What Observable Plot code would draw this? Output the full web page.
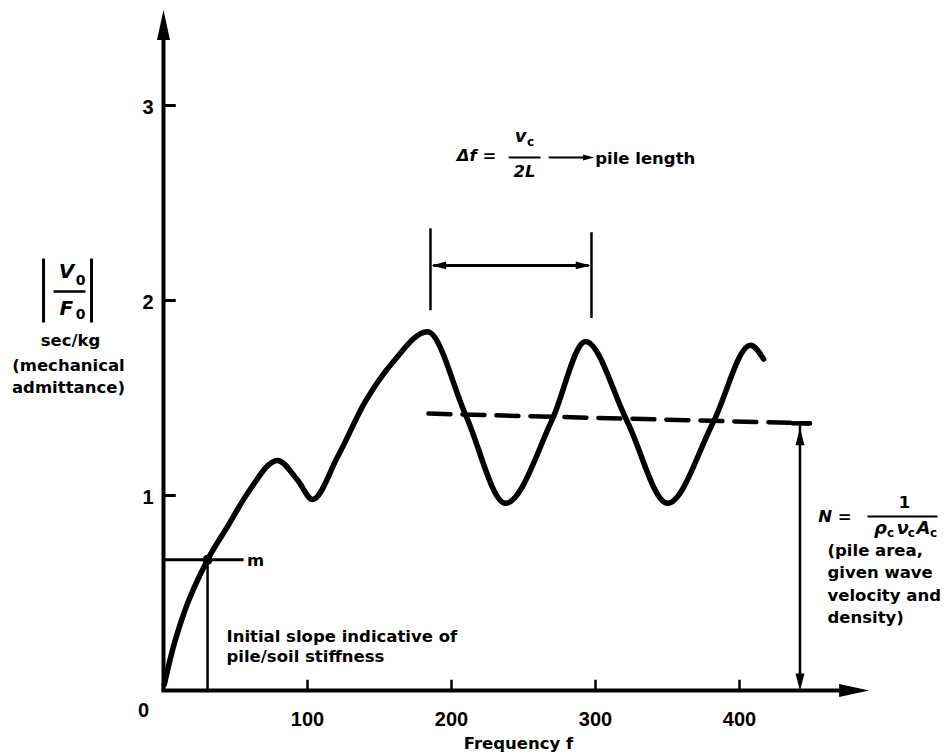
<!DOCTYPE html>
<html><head><meta charset="utf-8">
<script src="https://cdn.jsdelivr.net/npm/d3@7"></script>
<script src="https://cdn.jsdelivr.net/npm/@observablehq/plot@0.6"></script>
<style>html,body{margin:0;padding:0;background:#fff} svg{display:block}</style>
</head><body><div id="chart"></div>
<script>
// ---- data ----
const freq = [0.5, 6, 13.9, 30.6, 44.4, 58.3, 79.2, 93, 103.5, 121, 140, 160, 183.3, 210, 237.5, 270, 293, 322, 350, 382, 407.6, 416.7];
const admittance = [0.03, 0.2, 0.39, 0.67, 0.84, 1.01, 1.18, 1.08, 0.98, 1.2, 1.48, 1.69, 1.84, 1.41, 0.96, 1.39, 1.79, 1.38, 0.96, 1.38, 1.77, 1.70];
const xTicks = [100, 200, 300, 400];
const yTicks = [1, 2, 3];
const meanFreq = [184, 449];
const meanLevel = [1.42, 1.37];
const mFreq = 30.6, mLevel = 0.67;
const spanFreq = [185.4, 297.2];
const nFreq = 442;

const curve = freq.map((f, i) => ({f, a: admittance[i]}));
const mean = meanFreq.map((f, i) => ({f, a: meanLevel[i]}));

const FONT = "DejaVu Sans";
// filled arrow head symbol, tip at the dot position, pointing along (dx,dy) in screen space
const head = (len, hw, dx, dy) => ({
  draw(ctx) {
    const bx = -dx * len, by = -dy * len, px = -dy * hw, py = dx * hw;
    ctx.moveTo(0, 0); ctx.lineTo(bx + px, by + py); ctx.lineTo(bx - px, by - py); ctx.closePath();
  }
});
const tip = (x, y, symbol) => Plot.dot([0], {x: () => x, y: () => y, symbol, fill: "black", stroke: "none"});
const seg = (x1, y1, x2, y2, o = {}) => Plot.link([0], {x1: () => x1, y1: () => y1, x2: () => x2, y2: () => y2, stroke: "black", strokeWidth: 2.5, ...o});
const T = (text, x, y, o = {}) => Plot.text([text], {x: () => x, y: () => y, text: d => d, fontSize: 16.5, fontWeight: "bold", fontFamily: FONT, fill: "black", ...o});
const it = {fontStyle: "italic"};
const sub = {fontSize: 12};

const chart = Plot.plot({
  width: 944, height: 755,
  marginLeft: 163, marginRight: 61, marginTop: 7.5, marginBottom: 65,
  x: {domain: [0, 500], axis: null},
  y: {domain: [0, 3.5], axis: null},
  style: {background: "white", fontFamily: FONT},
  marks: [
    // axes
    seg(-1.5, 0, 472, 0, {strokeWidth: 4}),
    tip(490, 0, head(30, 6.5, 1, 0)),
    seg(0, 0, 0, 3.36, {strokeWidth: 4}),
    tip(0, 3.49, head(30, 6.5, 0, -1)),
    Plot.link(xTicks, {x1: d => d, x2: d => d, y1: () => 0, y2: () => 0.055, stroke: "black", strokeWidth: 2.5}),
    Plot.link(yTicks, {x1: () => 0, x2: () => 8.5, y1: d => d, y2: d => d, stroke: "black", strokeWidth: 3}),
    Plot.text(xTicks, {x: d => d, y: () => 0, dy: 29, text: d => String(d), fontSize: 20, fontWeight: "bold", fontFamily: "Liberation Sans"}),
    Plot.text(yTicks, {x: () => 0, y: d => d, dx: -10, dy: 2, textAnchor: "end", text: d => String(d), fontSize: 20, fontWeight: "bold", fontFamily: "Liberation Sans"}),
    T("0", -13.9, -0.103, {fontSize: 20, fontFamily: "Liberation Sans"}),
    T("Frequency f", 246.5, -0.272),

    // response curve
    Plot.line(curve, {x: "f", y: "a", curve: "monotone-x", stroke: "black", strokeWidth: 5.5, strokeLinecap: "round", strokeLinejoin: "round"}),

    // mean level (dashed)
    Plot.line(mean, {x: "f", y: "a", stroke: "black", strokeWidth: 4.5, strokeDasharray: "22,12"}),
    seg(436, 1.37, 449, 1.37, {strokeWidth: 4.5}),

    // initial slope point m
    seg(1, mLevel, 55.6, mLevel, {strokeWidth: 3}),
    seg(mFreq, 0, mFreq, mLevel, {strokeWidth: 2.5}),
    Plot.dot([0], {x: () => mFreq, y: () => mLevel, r: 5, fill: "black"}),
    T("m", 63.9, 0.667),
    T("Initial slope indicative of", 43.75, 0.277, {textAnchor: "start"}),
    T("pile/soil stiffness", 43.75, 0.174, {textAnchor: "start"}),

    // Δf bracket
    seg(spanFreq[0], 1.95, spanFreq[0], 2.37),
    seg(spanFreq[1], 1.91, spanFreq[1], 2.35),
    seg(spanFreq[0] + 2, 2.18, spanFreq[1] - 2, 2.18, {strokeWidth: 3}),
    tip(spanFreq[0] + 0.5, 2.18, head(15, 3.8, -1, 0)),
    tip(spanFreq[1] - 0.5, 2.18, head(15, 3.8, 1, 0)),

    // Δf = v_c / 2L → pile length
    T("Δf =", 217.4, 2.744, it),
    T("v", 248, 2.841, {...it, fontSize: 18}),
    T("c", 254.9, 2.812, sub),
    seg(239.6, 2.733, 261.8, 2.733, {strokeWidth: 2}),
    T("2L", 250.7, 2.662, it),
    seg(267.4, 2.733, 292, 2.733, {strokeWidth: 2}),
    tip(299, 2.733, head(11, 3, 1, 0)),
    T("pile length", 299.8, 2.728, {textAnchor: "start"}),

    // N arrow
    seg(nFreq, 1.37, nFreq, 0.03),
    tip(nFreq, 1.345, head(17, 4.5, 0, -1)),
    tip(nFreq, 0.0, head(17, 4.5, 0, 1)),

    // N = 1 / (ρc vc Ac)
    T("N =", 466.3, 0.892, it),
    T("1", 514.6, 0.964),
    seg(488.9, 0.892, 537.5, 0.892, {strokeWidth: 2}),
    T("ρ", 497.9, 0.831, {...it, fontSize: 18}),
    T("c", 504.9, 0.805, sub),
    T("ν", 513.2, 0.831, {...it, fontSize: 18}),
    T("c", 519.4, 0.805, sub),
    T("A", 527.8, 0.831, {...it, fontSize: 18}),
    T("c", 534.7, 0.805, sub),
    T("(pile area,", 461.1, 0.718, {textAnchor: "start"}),
    T("given wave", 461.1, 0.605, {textAnchor: "start"}),
    T("velocity and", 461.1, 0.487, {textAnchor: "start"}),
    T("density)", 461.1, 0.374, {textAnchor: "start"}),

    // y label |V0/F0|
    seg(-83.3, 1.887, -83.3, 2.215, {strokeWidth: 3}),
    seg(-50, 1.887, -50, 2.215, {strokeWidth: 3}),
    T("V", -67.4, 2.15, {...it, fontSize: 20}),
    T("0", -57.6, 2.10, {fontSize: 14}),
    seg(-76.4, 2.046, -54.2, 2.046, {strokeWidth: 2.5}),
    T("F", -67.4, 1.96, {...it, fontSize: 20}),
    T("0", -57.6, 1.93, {fontSize: 14}),
    T("sec/kg", -64.6, 1.795),
    T("(mechanical", -66, 1.667),
    T("admittance)", -66, 1.554)
  ]
});
document.getElementById("chart").append(chart);
</script>
</body></html>
